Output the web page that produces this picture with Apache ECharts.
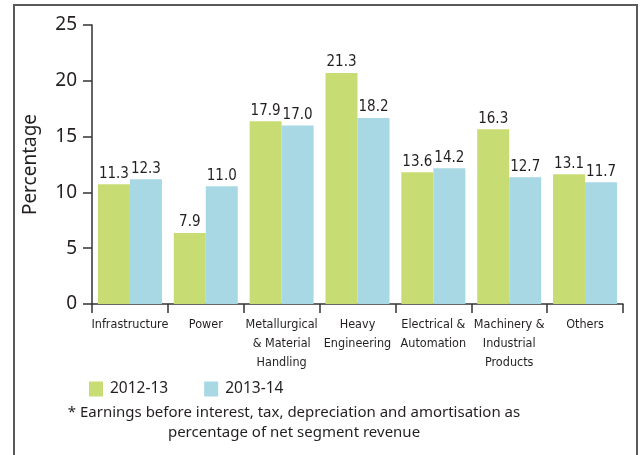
<!DOCTYPE html>
<html>
<head>
<meta charset="utf-8">
<script src="https://cdn.jsdelivr.net/npm/echarts@6/dist/echarts.min.js"></script>
<style>
  html, body { margin: 0; padding: 0; background: #fff; }
  #chart { width: 643px; height: 455px; }
</style>
</head>
<body>
<div id="chart"></div>
<script>
  const segments = [
    "Infrastructure",
    "Power",
    "Metallurgical\n& Material\nHandling",
    "Heavy\nEngineering",
    "Electrical &\nAutomation",
    "Machinery &\nIndustrial\nProducts",
    "Others",
  ];
  // bar heights as drawn in the picture
  const bars2013 = [10.73, 6.36, 16.37, 20.7, 11.8, 15.65, 11.62];
  const bars2014 = [11.17, 10.55, 16.0, 16.67, 12.16, 11.35, 10.9];
  // printed labels above the bars
  const labels2013 = ["11.3", "7.9", "17.9", "21.3", "13.6", "16.3", "13.1"];
  const labels2014 = ["12.3", "11.0", "17.0", "18.2", "14.2", "12.7", "11.7"];
  const yTicks = [0, 5, 10, 15, 20, 25];
  const footnote = "* Earnings before interest, tax, depreciation and amortisation as\npercentage of net segment revenue";

  const green = "#c8dc74";
  const blue = "#a8d8e4";
  const ink = "#231f20";
  const narrow = "'DejaVu Sans Condensed', sans-serif";
  const sans = "'Noto Sans', 'Open Sans', sans-serif";

  const chart = echarts.init(document.getElementById("chart"));

  function barLabel(texts) {
    return {
      show: true,
      position: "top",
      distance: 3,
      fontFamily: narrow,
      fontSize: 15,
      color: ink,
      formatter: (p) => texts[p.dataIndex],
    };
  }

  chart.setOption({
    backgroundColor: "#fff",
    animation: false,
    grid: { left: 92, right: 20, top: 25, bottom: 151 },
    legend: {
      left: 84,
      top: 376,
      itemWidth: 14,
      itemHeight: 15,
      itemGap: 36,
      icon: "rect",
      textStyle: { fontFamily: sans, fontSize: 15.5, color: ink, padding: [0, 0, 0, 2] },
      data: ["2012-13", "2013-14"],
    },
    xAxis: {
      type: "category",
      data: segments,
      axisLine: { lineStyle: { color: "#333", width: 1.5 } },
      axisTick: { show: true, length: 9, lineStyle: { color: "#333", width: 1.5 } },
      axisLabel: {
        interval: 0,
        margin: 11,
        fontFamily: narrow,
        fontSize: 12.5,
        lineHeight: 19,
        color: ink,
      },
    },
    yAxis: {
      type: "value",
      min: yTicks[0],
      max: yTicks[yTicks.length - 1],
      interval: 5,
      name: "Percentage",
      nameLocation: "middle",
      nameGap: 52,
      nameTextStyle: { fontFamily: sans, fontSize: 19, color: ink },
      splitLine: { show: false },
      axisLine: { show: true, lineStyle: { color: "#333", width: 1.5 } },
      axisTick: { show: true, length: 9, lineStyle: { color: "#333", width: 1.5 } },
      axisLabel: { margin: 15, fontFamily: sans, fontSize: 19, color: ink },
    },
    series: [
      {
        name: "2012-13",
        type: "bar",
        data: bars2013,
        barWidth: 32,
        barGap: "0%",
        itemStyle: { color: green },
        label: barLabel(labels2013),
      },
      {
        name: "2013-14",
        type: "bar",
        data: bars2014,
        barWidth: 32,
        barGap: "0%",
        itemStyle: { color: blue },
        label: barLabel(labels2014),
      },
    ],
    graphic: [
      {
        type: "rect",
        shape: { x: 14, y: 5, width: 623, height: 470 },
        style: { fill: "none", stroke: "#5a5a5a", lineWidth: 2 },
        silent: true,
      },
      {
        type: "text",
        x: 294,
        y: 403,
        style: {
          text: footnote,
          align: "center",
          fontFamily: sans,
          fontSize: 15,
          lineHeight: 20,
          fill: ink,
        },
      },
    ],
  });
</script>
</body>
</html>
